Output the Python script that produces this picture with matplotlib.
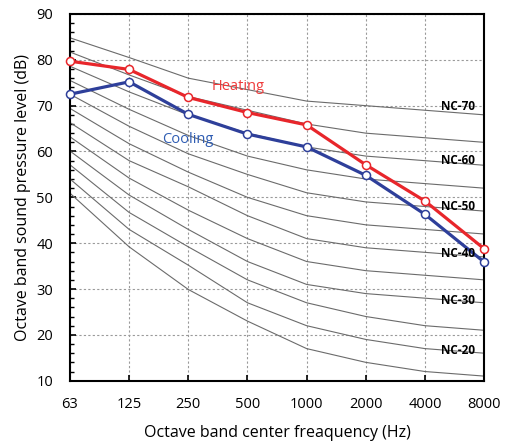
import numpy as np
import matplotlib.pyplot as plt
from matplotlib.ticker import MultipleLocator

# =============================================================================
# DATOS
# =============================================================================
bandas = ['63', '125', '250', '500', '1000', '2000', '4000', '8000']

calefaccion = [79.7, 77.9, 71.8, 68.5, 65.8, 57.1, 49.2, 38.8]
enfriamiento = [72.5, 75.2, 68.1, 63.8, 61.0, 54.8, 46.3, 35.9]

# curvas NC (NC-15 ... NC-70), dB por banda de octava
nc_curvas = [
    [50.9, 39.2, 29.9, 23.0, 17, 14, 12, 11],
    [54.0, 43.0, 35.2, 27.0, 22, 19, 17, 16],
    [57.1, 46.7, 39.2, 32.0, 27, 24, 22, 21],
    [60.1, 50.5, 43.0, 36.0, 31, 29, 28, 27],
    [63.2, 54.2, 47.2, 41.0, 36, 34, 33, 32],
    [66.3, 58.0, 52.3, 46.0, 41, 39, 38, 37],
    [69.4, 61.7, 55.5, 50.0, 46, 44, 43, 42],
    [72.5, 65.5, 59.5, 55.0, 51, 49, 48, 47],
    [75.5, 69.2, 63.5, 59.0, 56, 54, 53, 52],
    [78.6, 73.0, 68.0, 64.0, 61, 59, 58, 57],
    [81.7, 76.7, 72.0, 69.0, 66, 64, 63, 62],
    [84.8, 80.5, 76.0, 73.5, 71, 70, 69, 68],
]
nc_etiquetas = ['NC-70', 'NC-60', 'NC-50', 'NC-40', 'NC-30', 'NC-20']
nc_etiqueta_y = [69.8, 58.1, 48.1, 37.7, 27.4, 16.6]

ROJO = '#e8262b'
AZUL = '#2e3f9a'

plt.rcParams['font.family'] = ['Open Sans', 'DejaVu Sans']

fig = plt.figure(figsize=(5.09, 4.44), dpi=100)
ax = fig.add_axes([0.1375, 0.1426, 0.8135, 0.8259])

x = np.arange(len(bandas))

for curva in nc_curvas:
    ax.plot(x, curva, color='#6b6b6b', linewidth=0.8, zorder=2)

ax.plot(x, calefaccion, color=ROJO, linewidth=2.3, marker='o', markersize=5.8,
        markerfacecolor='white', markeredgecolor=ROJO, markeredgewidth=1.1,
        zorder=4, clip_on=False)
ax.plot(x, enfriamiento, color=AZUL, linewidth=2.3, marker='o', markersize=5.8,
        markerfacecolor='white', markeredgecolor=AZUL, markeredgewidth=1.1,
        zorder=4, clip_on=False)

ax.text(2.84, 74.1, 'Heating', color='#ee3b3b', fontsize=10.5, ha='center', va='center')
ax.text(2.0, 62.7, 'Cooling', color='#2f5db3', fontsize=10.5, ha='center', va='center')

for etiqueta, y in zip(nc_etiquetas, nc_etiqueta_y):
    ax.text(6.56, y, etiqueta, fontsize=8.5, fontweight='bold', ha='center',
            va='center', zorder=5)

ax.set_xlim(0, 7)
ax.set_ylim(10, 90)
ax.set_xticks(x)
ax.set_xticklabels(bandas)
ax.yaxis.set_major_locator(MultipleLocator(10))
ax.yaxis.set_minor_locator(MultipleLocator(2))
ax.tick_params(axis='both', which='both', direction='in', labelsize=10.5)
ax.tick_params(axis='both', which='major', length=4, width=1.2)
ax.tick_params(axis='y', which='minor', length=3, width=1.0)
ax.tick_params(axis='x', pad=12)
ax.tick_params(axis='y', pad=12)
ax.grid(True, which='major', linestyle=(0, (2, 2)), color='#9a9a9a', linewidth=0.8)

for lado in ax.spines.values():
    lado.set_linewidth(1.5)

ax.set_xlabel('Octave band center freaquency (Hz)', fontsize=11.5, labelpad=9)
ax.set_ylabel('Octave band sound pressure level (dB)', fontsize=11.5)

fig.savefig('out.png', dpi=100)
